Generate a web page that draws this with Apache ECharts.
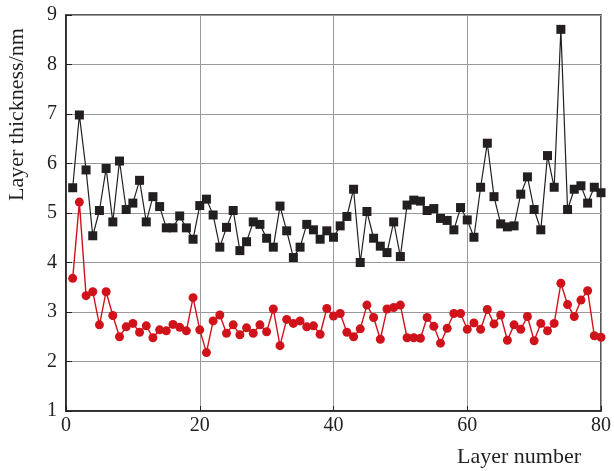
<!DOCTYPE html>
<html lang="en" style="height: 100%">
<head>
    <meta charset="utf-8">
    <title>Layer thickness</title>
    <script src="https://cdn.jsdelivr.net/npm/echarts@6.0.0/dist/echarts.min.js"></script>
    <style>
        html, body { margin: 0; padding: 0; background: #fff; }
    </style>
</head>
<body>
<div id="chart" style="width:614px; height:471px;"></div>

<script type="text/javascript">
    // layer index 1..80
    var layers = [];
    for (var i = 1; i <= 80; i++) layers.push(i);

    // upper (black, squares)
    var thickBlack = [
        5.51, 6.98, 5.87, 4.54, 5.05, 5.90, 4.82, 6.05, 5.07, 5.20,
        5.66, 4.82, 5.33, 5.13, 4.70, 4.70, 4.94, 4.70, 4.47, 5.15,
        5.28, 4.96, 4.31, 4.71, 5.05, 4.24, 4.42, 4.82, 4.77, 4.49,
        4.31, 5.14, 4.64, 4.10, 4.31, 4.77, 4.66, 4.47, 4.64, 4.51,
        4.74, 4.93, 5.48, 4.00, 5.03, 4.49, 4.33, 4.20, 4.82, 4.12,
        5.16, 5.26, 5.24, 5.05, 5.09, 4.89, 4.85, 4.66, 5.11, 4.86,
        4.51, 5.52, 6.41, 5.33, 4.78, 4.72, 4.74, 5.38, 5.73, 5.07,
        4.66, 6.16, 5.52, 8.71, 5.07, 5.48, 5.55, 5.20, 5.52, 5.41
    ];
    // lower (red, circles)
    var thickRed = [
        3.68, 5.22, 3.33, 3.41, 2.74, 3.41, 2.93, 2.50, 2.70, 2.77,
        2.59, 2.72, 2.48, 2.64, 2.62, 2.75, 2.69, 2.62, 3.29, 2.64,
        2.18, 2.82, 2.94, 2.57, 2.74, 2.54, 2.68, 2.57, 2.74, 2.60,
        3.06, 2.32, 2.85, 2.77, 2.82, 2.70, 2.72, 2.55, 3.07, 2.92,
        2.97, 2.59, 2.50, 2.66, 3.14, 2.89, 2.45, 3.06, 3.09, 3.14,
        2.48, 2.48, 2.47, 2.89, 2.71, 2.37, 2.67, 2.97, 2.97, 2.65,
        2.78, 2.65, 3.05, 2.76, 2.94, 2.43, 2.74, 2.65, 2.91, 2.42,
        2.77, 2.62, 2.77, 3.58, 3.15, 2.91, 3.24, 3.43, 2.52, 2.49
    ];

    var xTitle = 'Layer number';
    var yTitle = 'Layer thickness/nm';

    function pairs(vals) {
        return vals.map(function (v, i) { return [layers[i], v]; });
    }

    var serif = '"Liberation Serif", "DejaVu Serif", serif';
    var myChart = echarts.init(document.getElementById('chart'));

    myChart.setOption({
        animation: false,
        grid: {
            left: 66, right: 11, top: 15, bottom: 60,
            show: true, borderColor: '#231f20', borderWidth: 1.5
        },
        xAxis: {
            type: 'value', min: 0, max: 80, interval: 20,
            axisLine: { lineStyle: { color: '#231f20', width: 1.5 } },
            axisTick: { inside: true, length: 5, lineStyle: { color: '#231f20' } },
            axisLabel: { color: '#231f20', fontFamily: serif, fontSize: 20, margin: 5 },
            splitLine: { show: true, lineStyle: { color: '#9a9a9a', width: 1 } }
        },
        yAxis: {
            type: 'value', min: 1, max: 9, interval: 1,
            axisLine: { show: true, lineStyle: { color: '#231f20', width: 1.5 } },
            axisTick: { show: true, inside: true, length: 6, lineStyle: { color: '#231f20' } },
            axisLabel: { color: '#231f20', fontFamily: serif, fontSize: 20, margin: 9 },
            splitLine: { show: true, lineStyle: { color: '#9a9a9a', width: 1 } }
        },
        graphic: [
            {
                type: 'text', left: 457, top: 446,
                style: { text: xTitle, font: '22px ' + serif, fill: '#231f20' }
            },
            {
                type: 'text', x: 6, y: 201, rotation: Math.PI / 2,
                style: { text: yTitle, font: '22px ' + serif, fill: '#231f20', verticalAlign: 'top' }
            }
        ],
        series: [
            {
                type: 'line',
                data: pairs(thickBlack),
                symbol: 'rect', symbolSize: 9,
                itemStyle: { color: '#231f20' },
                lineStyle: { color: '#231f20', width: 1.2 },
                z: 3
            },
            {
                type: 'line',
                data: pairs(thickRed),
                symbol: 'circle', symbolSize: 9,
                itemStyle: { color: '#d0121b' },
                lineStyle: { color: '#d0121b', width: 1.4 },
                z: 2
            }
        ]
    });
</script>
</body>
</html>
